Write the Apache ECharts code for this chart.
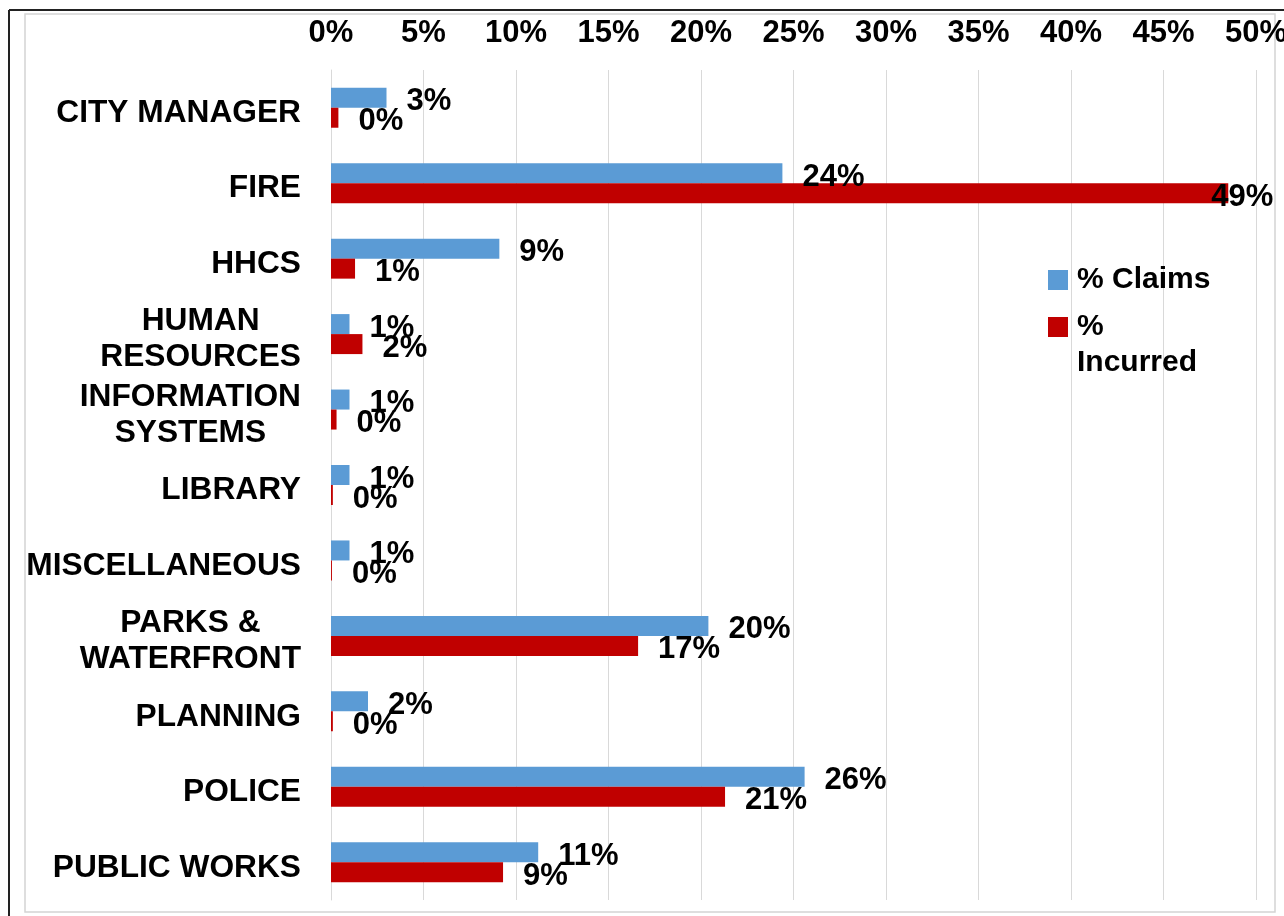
<!DOCTYPE html>
<html>
<head>
<meta charset="utf-8">
<script src="https://cdn.jsdelivr.net/npm/echarts@6/dist/echarts.min.js"></script>
<style>
  html, body { margin: 0; padding: 0; background: #fff; }
  #chart { width: 1284px; height: 916px; }
</style>
</head>
<body>
<div id="chart"></div>
<script>
var categories = ['CITY MANAGER', 'FIRE', 'HHCS', 'HUMAN\nRESOURCES', 'INFORMATION\nSYSTEMS', 'LIBRARY', 'MISCELLANEOUS', 'PARKS &\nWATERFRONT', 'PLANNING', 'POLICE', 'PUBLIC WORKS'];
var claims   = [3.0, 24.4, 9.1, 1.0, 1.0, 1.0, 1.0, 20.4, 2.0, 25.6, 11.2];
var incurred = [0.4, 48.5, 1.3, 1.7, 0.3, 0.1, 0.05, 16.6, 0.1, 21.3, 9.3];
var seriesNames = ['% Claims', '% Incurred'];
var xTicks = { min: 0, max: 50, interval: 5 };

var FONT = '"Liberation Sans", Arial, sans-serif';
var chart = echarts.init(document.getElementById('chart'));

function withLabelFix(arr) {
  return arr.map(function (v) {
    if (v > 45) {
      return { value: v, label: { offset: [-37, 4] } };
    }
    return v;
  });
}

var labelCommon = {
  show: true,
  position: 'right',
  distance: 20,
  offset: [0, 4],
  color: '#000',
  fontFamily: FONT,
  fontWeight: 'bold',
  fontSize: 31,
  formatter: function (p) { return Math.round(p.value) + '%'; }
};

var option = {
  backgroundColor: '#fff',
  animation: false,
  graphic: [
    { type: 'rect', shape: { x: 25, y: 14, width: 1250, height: 898 }, style: { fill: 'none', stroke: '#d4d4d4', lineWidth: 1.5 }, z: -10 },
    { type: 'line', shape: { x1: 9, y1: 10, x2: 1284, y2: 10 }, style: { stroke: '#222', lineWidth: 2 } },
    { type: 'line', shape: { x1: 9, y1: 10, x2: 9, y2: 916 }, style: { stroke: '#222', lineWidth: 2 } }
  ],
  grid: { left: 331, right: 28, top: 70, bottom: 16, containLabel: false, outerBoundsMode: 'none' },
  legend: {
    orient: 'vertical',
    left: 1048,
    top: 262,
    padding: 0,
    itemGap: -25,
    itemWidth: 20,
    itemHeight: 20,
    icon: 'rect',
    selectedMode: false,
    textStyle: { fontFamily: FONT, fontWeight: 'bold', fontSize: 30, lineHeight: 36, color: '#000', padding: [0, 0, 0, 4] },
    formatter: function (name) { return name === '% Incurred' ? ' \n%\nIncurred' : name; },
    data: [seriesNames[0], seriesNames[1]]
  },
  xAxis: {
    type: 'value',
    position: 'top',
    min: xTicks.min,
    max: xTicks.max,
    interval: xTicks.interval,
    axisLine: { show: false },
    axisTick: { show: false },
    axisLabel: {
      margin: 21,
      color: '#000',
      fontFamily: FONT,
      fontWeight: 'bold',
      fontSize: 31,
      formatter: function (v) { return v + '%'; }
    },
    splitLine: { show: true, lineStyle: { color: '#d9d9d9', width: 1 } }
  },
  yAxis: {
    type: 'category',
    inverse: true,
    data: categories,
    axisLine: { show: true, lineStyle: { color: '#d9d9d9', width: 1 } },
    axisTick: { show: false },
    axisLabel: {
      margin: 30,
      padding: [11, 0, 0, 0],
      formatter: function (v) {
        return v.split('\n').map(function (l) { return '{c|' + l + '}'; }).join('\n');
      },
      rich: {
        c: { fontFamily: FONT, fontWeight: 'bold', fontSize: 31.7, lineHeight: 36, color: '#000', align: 'center' }
      }
    }
  },
  series: [
    {
      name: seriesNames[0],
      type: 'bar',
      data: withLabelFix(claims),
      barWidth: 20,
      barGap: '0%',
      itemStyle: { color: '#5B9BD5' },
      label: labelCommon
    },
    {
      name: seriesNames[1],
      type: 'bar',
      data: withLabelFix(incurred),
      barWidth: 20,
      barGap: '0%',
      itemStyle: { color: '#C00000' },
      label: labelCommon
    }
  ]
};
chart.setOption(option);
</script>
</body>
</html>
